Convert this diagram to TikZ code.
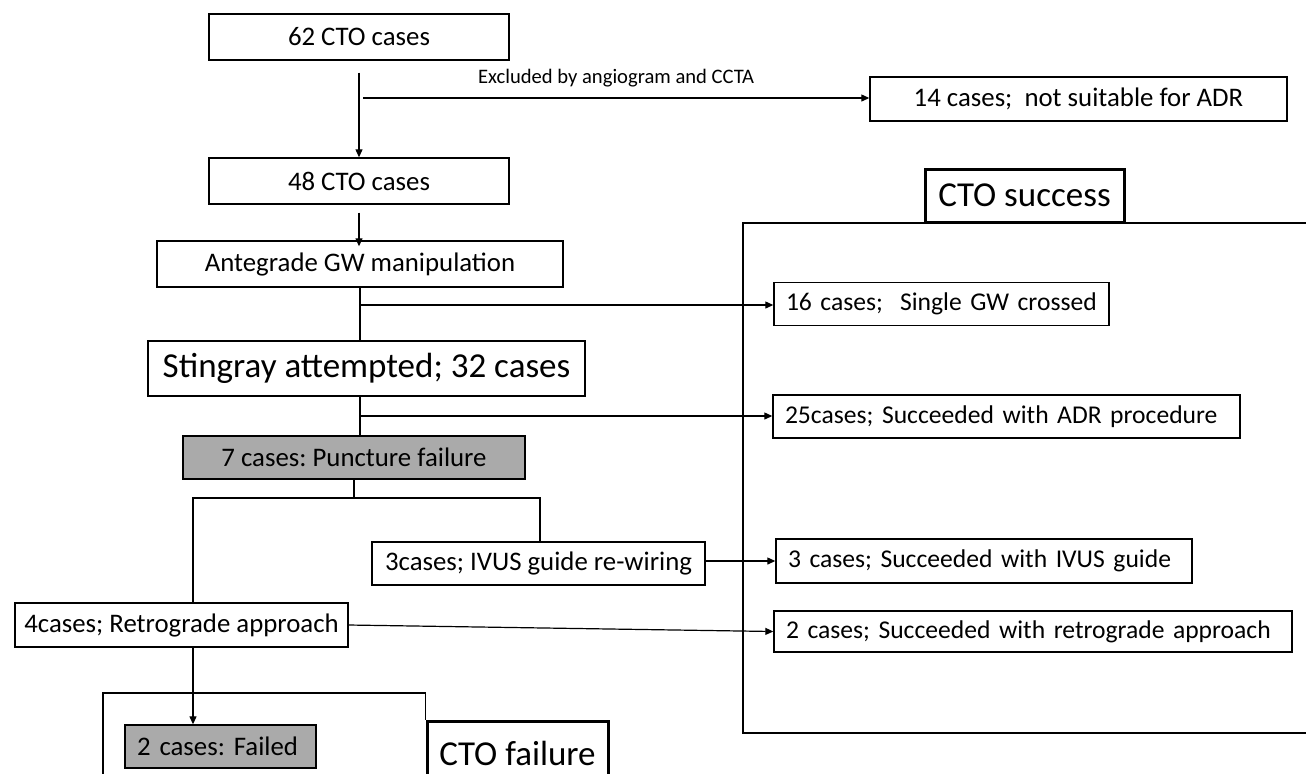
\documentclass[tikz,border=0pt]{standalone}
\usepackage{fontspec}
\setmainfont{Carlito}
\usepackage{tikz}
\usetikzlibrary{arrows.meta,calc}
\frenchspacing
\definecolor{boxgrey}{RGB}{170,170,170}
\newcommand{\txtbig}{\fontsize{17.5pt}{20pt}\selectfont}
\newcommand{\txtmid}{\fontsize{13.4pt}{15pt}\selectfont}
\newcommand{\txtright}{\fontsize{12.8pt}{15pt}\selectfont}
\newcommand{\txtsmall}{\fontsize{10.3pt}{12pt}\selectfont}
\tikzset{
  box/.style={draw, line width=0.7pt, fill=white, inner sep=0pt, font=\txtmid},
  lbox/.style={box, align=left, inner xsep=6pt, font=\txtright},
  title/.style={box, line width=1.5pt, font=\txtbig},
  flow/.style={line width=0.6pt, -{Triangle[length=4pt,width=3.5pt]}},
  link/.style={line width=0.6pt}
}

\begin{document}
\begin{tikzpicture}[x=0.5pt,y=-0.5pt]
\useasboundingbox (0,0) rectangle (1306,773);
% outcome frames
\draw[link] (1310,223) -- (743,223) -- (743,733) -- (1310,733);
\node[title, minimum width=99.5pt, minimum height=26.5pt] (succ) at (1024.5,195.5) {CTO success};
\node[title, anchor=north, minimum width=90.5pt, minimum height=32pt] (failbox) at (517.5,720) {CTO failure};
\draw[link] (103,780) -- (103,693) -| (failbox.north west);

% main column
\node[box, minimum width=150pt, minimum height=23pt] (c62) at (359,37) {62 CTO cases};
\node[box, minimum width=150pt, minimum height=23pt] (c48) at (359,181) {48 CTO cases};
\node[box, minimum width=203pt, minimum height=23pt] (ante) at (360,264) {Antegrade GW manipulation};
\node[box, line width=1.1pt, font=\txtbig, minimum width=218.5pt, minimum height=27.5pt] (sting) at (366.5,368.5) {Stingray attempted; 32 cases};
\node[box, fill=boxgrey, minimum width=171pt, minimum height=21.5pt] (punct) at (354,457.5) {7 cases: Puncture failure};
\node[box, minimum width=166.5pt, minimum height=21.5pt] (ivus) at (538.5,563.5) {3cases; IVUS guide re-wiring};
\node[box, minimum width=166.5pt, minimum height=22pt] (retro) at (181.5,625) {4cases; Retrograde approach};
\node[lbox, fill=boxgrey, font=\txtmid, text width=83.5pt, minimum height=21.5pt] (failed) at (220.5,746.5) {\mbox{2 cases: Failed}};

% right column
\node[box, minimum width=208.5pt, minimum height=22pt] (c14) at (1078.5,99) {14 cases;\ \ not suitable for ADR};
\node[lbox, text width=155.5pt, minimum height=21.5pt] (c16) at (941.5,304) {\mbox{16 cases;\ \ Single GW crossed}};
\node[lbox, text width=221.5pt, minimum height=21.5pt] (c25) at (1006.5,416.5) {\mbox{25cases; Succeeded with ADR procedure}};
\node[lbox, text width=196pt, minimum height=22pt] (c3) at (984,561) {\mbox{3 cases; Succeeded with IVUS guide}};
\node[lbox, text width=247pt, minimum height=20.5pt] (c2) at (1033,631.5) {\mbox{2 cases; Succeeded with retrograde approach}};

% connectors
\coordinate (ex) at (363,98);
\coordinate (sg) at (360,305);
\coordinate (ad) at (360,416);
\coordinate (jl) at (193,498);
\coordinate (jr) at (540,498);
\draw[flow] ([yshift=-6pt]c62.south) -- (c48.north);
\draw[flow] (ex) -- (ex -| c14.west) node[midway, above=2pt, font=\txtsmall] (exlab) {Excluded by angiogram and CCTA};
\draw[flow] ([yshift=-4pt]c48.south) -- ([yshift=-3pt]c48.south |- ante.north);
\draw[link] (ante.south) -- (ante.south |- sting.north);
\draw[flow] (sg) -- (sg -| c16.west);
\draw[link] (ante.south |- sting.south) -- (ante.south |- punct.north);
\draw[flow] (ad) -- (ad -| c25.west);
\draw[link] (punct.south) -- (punct.south |- jl);
\draw[link] (jl |- retro.north) -- (jl) -- (jr) -- (jr |- ivus.north);
\draw[flow] (ivus.east |- c3.west) -- (c3.west);
\draw[flow] (retro.east) -- (c2.west);
\draw[flow] (jl |- retro.south) -- (jl |- failed.north);
\end{tikzpicture}
\end{document}
